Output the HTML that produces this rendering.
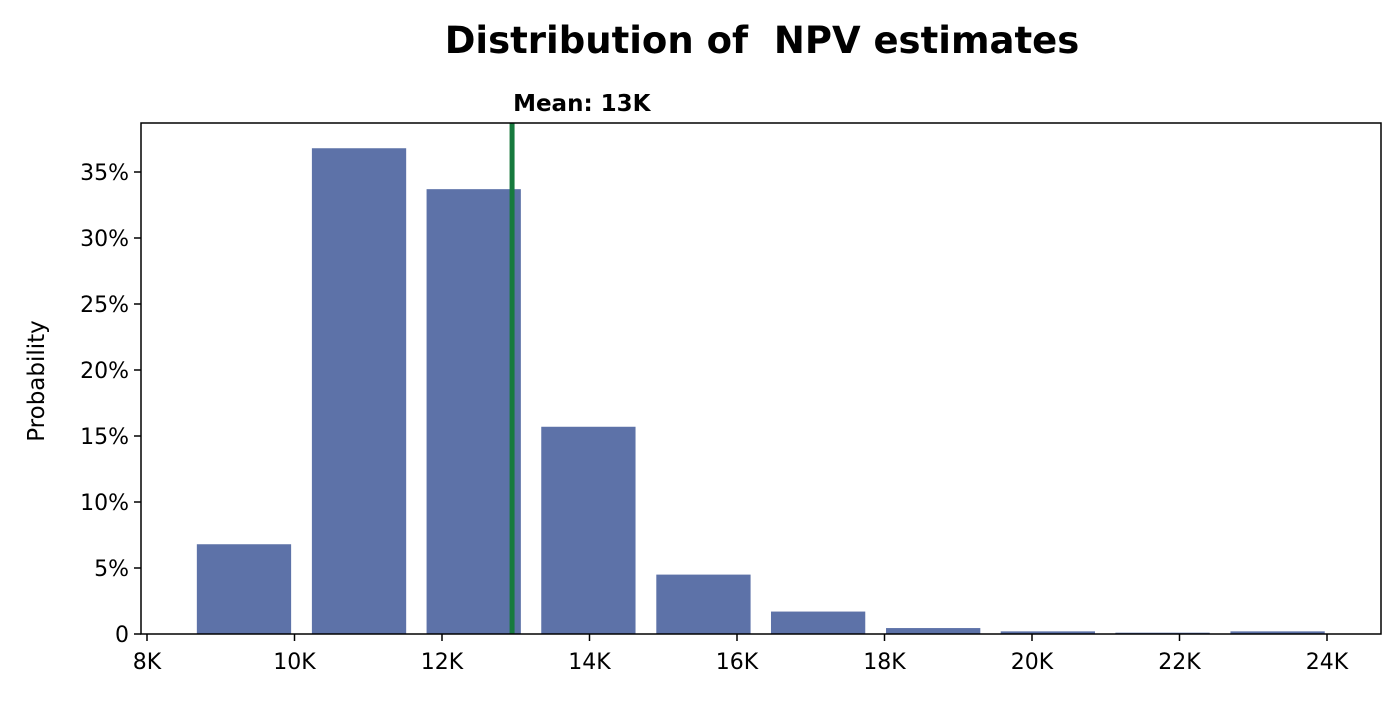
<!DOCTYPE html>
<html><head><meta charset="utf-8"><style>
body{margin:0;background:#fff;}
svg{font-family:"DejaVu Sans","Liberation Sans",sans-serif;}
</style></head><body>
<svg id="chart" width="1400" height="703">
<text x="762" y="53" text-anchor="middle" font-size="37" font-weight="bold" style="white-space:pre">Distribution of  NPV estimates</text>
<g id="bars"></g>
<g id="axes"></g>
</svg>
<script>
const binCenters=[9315,10875,12430,13985,15545,17100,18660,20215,21770,23330];
const probabilities=[6.8,36.8,33.7,15.7,4.5,1.7,0.45,0.2,0.1,0.2];
const binWidth=1559;
const meanValue=12950;
const xTicks=[8000,10000,12000,14000,16000,18000,20000,22000,24000];
const yTicks=[0,5,10,15,20,25,30,35];
const NS='http://www.w3.org/2000/svg';
const L=141,R=1381,T=123,B=634;
const x=v=>147+(v-8000)*147.5/2000;
const y=p=>B-p*13.2;
function mk(tag,attrs,parent){const e=document.createElementNS(NS,tag);for(const k in attrs)e.setAttribute(k,attrs[k]);parent.appendChild(e);return e;}
const bars=document.getElementById('bars'),axes=document.getElementById('axes');
binCenters.forEach((c,i)=>{
 const w=(x(c+binWidth/2)-x(c-binWidth/2))*0.82;
 const r=mk('rect',{x:x(c)-w/2,y:y(probabilities[i]),width:w,height:B-y(probabilities[i]),fill:'#5d72a8'},bars);
 
 
});
const ml=mk('line',{x1:x(meanValue),x2:x(meanValue),y1:T,y2:B,stroke:'#177a3e','stroke-width':5},axes);


const mt=mk('text',{x:x(meanValue)+1,y:111,'text-anchor':'start','font-size':23,'font-weight':'bold'},axes);
mt.textContent='Mean: '+Math.round(meanValue/1000)+'K';


const fr=mk('rect',{x:L,y:T,width:R-L,height:B-T,fill:'none',stroke:'#000','stroke-width':1.5},axes);


xTicks.forEach(v=>{
 const tl=mk('line',{x1:x(v),x2:x(v),y1:B,y2:B+7,stroke:'#000','stroke-width':1.5},axes);
 
 
 const t=mk('text',{x:x(v),y:B+35,'text-anchor':'middle','font-size':22},axes);
 t.textContent=(v/1000)+'K';
 
 
});
yTicks.forEach(p=>{
 const tl=mk('line',{x1:L-7,x2:L,y1:y(p),y2:y(p),stroke:'#000','stroke-width':1.5},axes);
 
 
 const t=mk('text',{x:L-12,y:y(p)+8,'text-anchor':'end','font-size':22},axes);
 t.textContent=p===0?'0':p+'%';
 
 
});
const yt=mk('text',{x:44,y:381,'text-anchor':'middle','font-size':23,transform:'rotate(-90 44 381)'},axes);
yt.textContent='Probability';


</script>
</body></html>
